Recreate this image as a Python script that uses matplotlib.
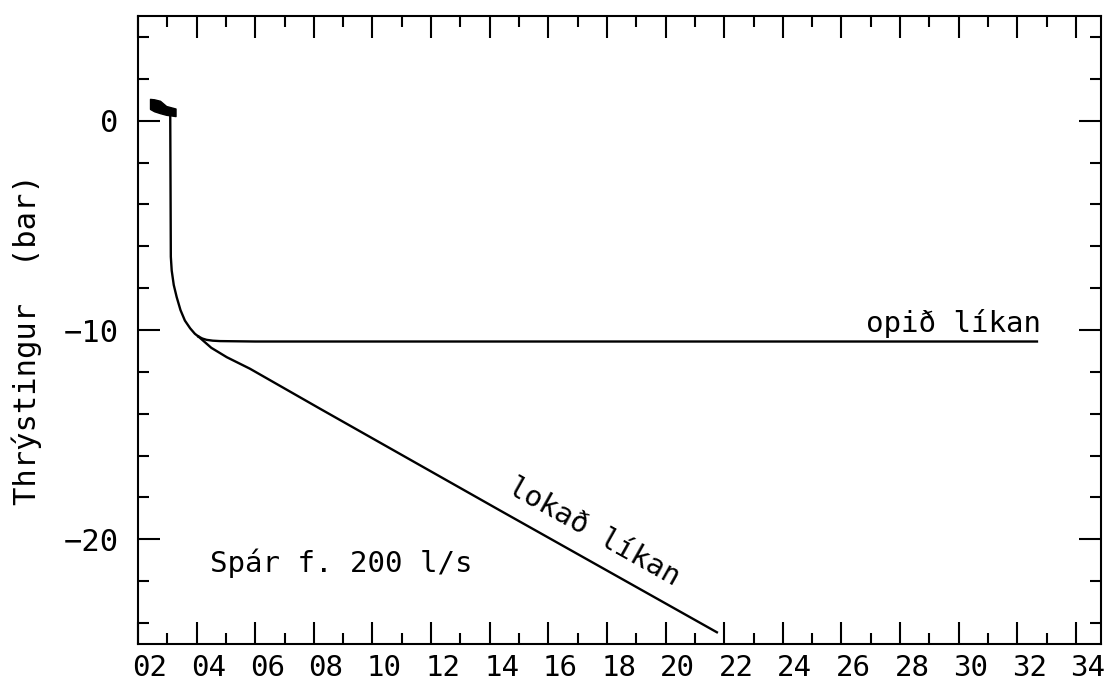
import matplotlib.pyplot as plt
import matplotlib.transforms as mtransforms
from matplotlib.ticker import MultipleLocator

plt.rcParams['font.family'] = ['DejaVu Sans Mono', 'DejaVu Sans']

# mælingar (þykki bletturinn efst til vinstri)
blob_x = [2.41, 2.55, 2.75, 2.96, 3.28]
blob_top = [1.04, 1.02, 0.95, 0.70, 0.58]
blob_bot = [0.56, 0.45, 0.36, 0.28, 0.22]

# sameiginlegt niðurdráttarferli
drop_x = [3.10, 3.12, 3.15, 3.22, 3.32, 3.45, 3.60, 3.78, 3.94, 4.06]
drop_y = [0.25, -6.5, -7.16, -7.85, -8.43, -9.05, -9.55, -9.92, -10.18, -10.31]

# opið líkan
open_x = [4.06, 4.20, 4.34, 4.55, 4.80, 6.0, 32.67]
open_y = [-10.31, -10.41, -10.47, -10.51, -10.53, -10.55, -10.55]

# lokað líkan
closed_x = [4.06, 4.50, 5.03, 5.82, 8.21, 14.35, 21.75]
closed_y = [-10.31, -10.85, -11.30, -11.85, -13.76, -18.62, -24.44]

xticks = list(range(2, 35, 2))
xtick_labels = [f"{v:02d}" for v in xticks]
yticks = [-20, -10, 0]

fig = plt.figure(figsize=(11.09, 6.8), dpi=100)
ax = fig.add_axes([138 / 1109, 1 - 644 / 680, 963 / 1109, 628 / 680])

ax.fill_between(blob_x, blob_bot, blob_top, color='black', lw=1)
ax.plot(drop_x, drop_y, color='black', lw=1.7)
ax.plot(open_x, open_y, color='black', lw=1.7)
ax.plot(closed_x, closed_y, color='black', lw=1.7)

ax.set_xlim(2.0, 34.855)
ax.set_ylim(-25, 5)

ax.set_xticks(xticks)
ax.set_xticklabels(xtick_labels)
ax.xaxis.set_minor_locator(MultipleLocator(1))
ax.set_yticks(yticks)
ax.yaxis.set_minor_locator(MultipleLocator(2))

ax.tick_params(which='both', direction='in', top=True, right=True, width=1.5)
ax.tick_params(which='major', length=15.5)
ax.tick_params(which='minor', length=7.8)
ax.tick_params(axis='x', pad=7, labelsize=21)
ax.tick_params(axis='y', pad=14, labelsize=22)
for s in ax.spines.values():
    s.set_linewidth(1.5)

# tölurnar á x-ás eru örlítið hægra megin við strikin
shift = mtransforms.ScaledTranslation(12 / 100, 0, fig.dpi_scale_trans)
for lab in ax.get_xticklabels():
    lab.set_transform(lab.get_transform() + shift)

fig.text(27 / 1109, 1 - 340 / 680, "Thrýstingur  (bar)", rotation=90,
         ha='center', va='center', fontsize=22)

ax.text(26.85, -10.1, "opið líkan", fontsize=21, ha='left', va='baseline')
ax.text(4.46, -21.56, "Spár f. 200 l/s", fontsize=21, ha='left', va='baseline')
ax.text(17.55, -19.65, "lokað líkan", fontsize=21, rotation=-29.3,
        rotation_mode='anchor', ha='center', va='center')

fig.savefig("out.png", dpi=100)
